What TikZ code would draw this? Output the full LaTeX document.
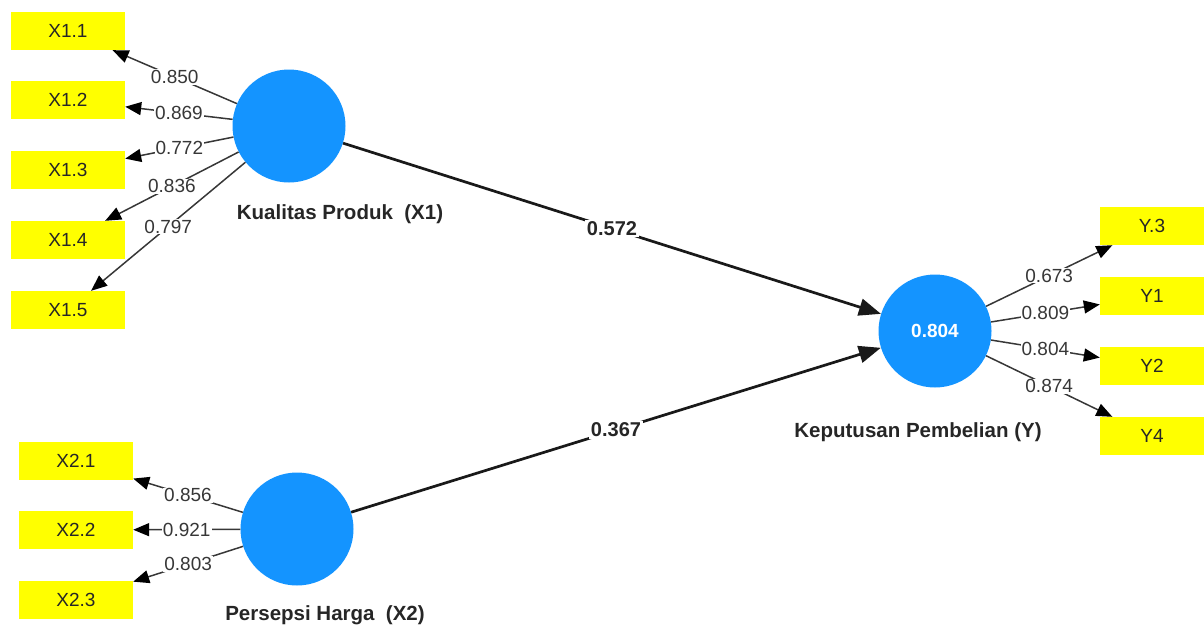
\documentclass[tikz,border=0pt]{standalone}
\usepackage{fontspec}
\setmainfont{Liberation Sans}
\usetikzlibrary{arrows.meta}
\definecolor{lvblue}{RGB}{20,148,255}
\definecolor{boxyellow}{RGB}{255,255,0}
\definecolor{lblgray}{RGB}{55,55,55}
\begin{document}
\begin{tikzpicture}[x=1pt,y=-1pt,
  ind/.style={fill=boxyellow, minimum width=114pt, minimum height=38pt, inner sep=0pt, font=\fontsize{19}{21}\selectfont, text=black!85},
  lv/.style={circle, fill=lvblue, minimum size=113pt, inner sep=0pt},
  load/.style={draw=lblgray, line width=1.5pt, -{Triangle[length=16pt,width=13pt,color=black]}},
  pathc/.style={draw=black!90, line width=2.7pt, -{Triangle[length=22pt,width=17pt]}},
  lbl/.style={fill=white, inner sep=1pt, font=\fontsize{19}{21}\selectfont, text=lblgray},
  plbl/.style={fill=white, inner sep=1.5pt, font=\bfseries\fontsize{20}{22}\selectfont, text=black!85},
  lvname/.style={font=\bfseries\fontsize{20.5}{22}\selectfont, text=black!85}
]
\useasboundingbox (0,0) rectangle (1204,627);

% indicators
\node[ind] (X11) at (68,31) {X1.1};
\node[ind] (X12) at (68,100) {X1.2};
\node[ind] (X13) at (68,170) {X1.3};
\node[ind] (X14) at (68,240) {X1.4};
\node[ind] (X15) at (68,310) {X1.5};
\node[ind] (X21) at (76,461) {X2.1};
\node[ind] (X22) at (76,530) {X2.2};
\node[ind] (X23) at (76,600) {X2.3};
\node[ind, minimum width=104pt] (Y3) at (1152,226) {Y.3};
\node[ind, minimum width=104pt] (Y1) at (1152,296) {Y1};
\node[ind, minimum width=104pt] (Y2) at (1152,366) {Y2};
\node[ind, minimum width=104pt] (Y4) at (1152,436) {Y4};

% latent variables
\node[lv] (KP) at (289,126) {};
\node[lv] (PH) at (297,529) {};
\node[lv, font=\bfseries\fontsize{19}{21}\selectfont, text=white] (KY) at (935,331) {0.804};

\node[lvname] (KPn) at (340,214) {Kualitas Produk\ \ (X1)};
\node[lvname] (PHn) at (325,615) {Persepsi Harga\ \ (X2)};
\node[lvname] (KYn) at (918,432) {Keputusan Pembelian (Y)};

% loadings
\draw[load] (KP) -- node[lbl] {0.850} (X11);
\draw[load] (KP) -- node[lbl] {0.869} (X12);
\draw[load] (KP) -- node[lbl] {0.772} (X13);
\draw[load] (KP) -- node[lbl] {0.836} (X14);
\draw[load] (KP) -- node[lbl] {0.797} (X15);
\draw[load] (PH) -- node[lbl] {0.856} (X21);
\draw[load] (PH) -- node[lbl] {0.921} (X22);
\draw[load] (PH) -- node[lbl] {0.803} (X23);
\draw[load] (KY) -- node[lbl] {0.673} (Y3);
\draw[load] (KY) -- node[lbl] {0.809} (Y1);
\draw[load] (KY) -- node[lbl] {0.804} (Y2);
\draw[load] (KY) -- node[lbl] {0.874} (Y4);

% paths
\draw[pathc] (KP) -- node[plbl] {0.572} (KY);
\draw[pathc] (PH) -- node[plbl] {0.367} (KY);
\end{tikzpicture}
\end{document}
